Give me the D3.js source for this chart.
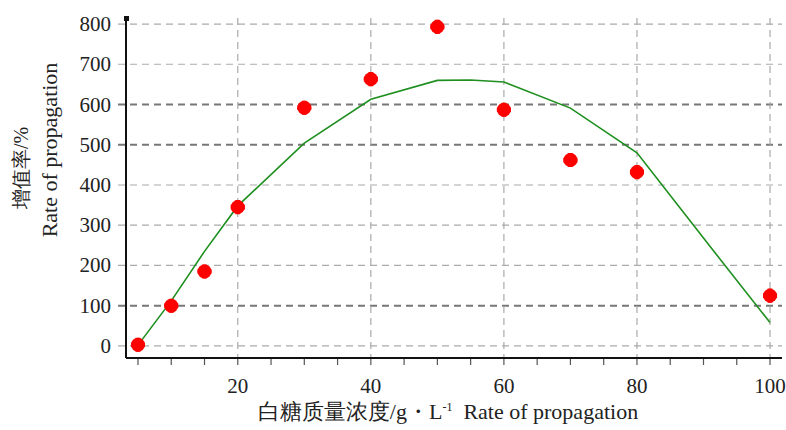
<!DOCTYPE html>
<html>
<head>
<meta charset="utf-8">
<script src="https://cdn.jsdelivr.net/npm/d3@7"></script>
<style>
  body { margin: 0; background: #fff; }
</style>
</head>
<body>
<svg id="chart" width="786" height="430" font-family="'Liberation Serif', 'DejaVu Serif', serif"></svg>
<script>
// measured points
const concX = [5, 10, 15, 20, 30, 40, 50, 60, 70, 80, 100]
const rateY = [3, 100, 185, 345, 592, 663, 793, 587, 462, 432, 125]

// fitted curve
const fitX = [5, 10, 15, 20, 30, 40, 50, 55, 60, 70, 80, 90, 100]
const fitY = [2, 112, 235, 348, 504, 613, 660, 661, 656, 591, 480, 268, 58]

const xTicks = [20, 40, 60, 80, 100]
const xMinor = d3.range(5, 101, 5)
const yTicks = [0, 100, 200, 300, 400, 500, 600, 700, 800]
const yDark = [100, 500, 600]

const svg = d3.select('#chart')

let x = d3.scaleLinear().domain([3.2, 101.8]).range([126, 782])
let y = d3.scaleLinear().domain([-30, 815]).range([358, 18])

// grid
svg.append('g')
    .selectAll('line')
    .data(yTicks)
    .enter()
    .append('line')
    .attr('x1', 118).attr('x2', 782)
    .attr('y1', d => y(d)).attr('y2', d => y(d))
    .style('stroke', d => yDark.includes(d) ? '#777' : '#aaa')
    .style('stroke-width', d => yDark.includes(d) ? 2 : 1.2)
    .style('stroke-dasharray', '7,5')

svg.append('g')
    .selectAll('line')
    .data(xTicks)
    .enter()
    .append('line')
    .attr('x1', d => x(d)).attr('x2', d => x(d))
    .attr('y1', 18).attr('y2', 358)
    .style('stroke', '#aaa')
    .style('stroke-width', 1.2)
    .style('stroke-dasharray', '7,5')

// axes
svg.append('line')
    .attr('x1', 126).attr('x2', 126).attr('y1', 18).attr('y2', 358)
    .style('stroke', '#111').style('stroke-width', 2)
svg.append('rect')
    .attr('x', 124).attr('y', 16).attr('width', 5).attr('height', 5)
    .style('fill', '#111')
svg.append('line')
    .attr('x1', 126).attr('x2', 782).attr('y1', 358).attr('y2', 358)
    .style('stroke', '#111').style('stroke-width', 2)

svg.append('g')
    .selectAll('line')
    .data(xMinor)
    .enter()
    .append('line')
    .attr('x1', d => x(d)).attr('x2', d => x(d))
    .attr('y1', 359).attr('y2', 365)
    .style('stroke', '#555').style('stroke-width', 1.2)

svg.append('g')
    .selectAll('text')
    .data(xTicks)
    .enter()
    .append('text')
    .attr('x', d => x(d)).attr('y', 393)
    .attr('text-anchor', 'middle')
    .attr('fill', '#222')
    .style('font-size', '21px')
    .text(d => d)

svg.append('g')
    .selectAll('text')
    .data(yTicks)
    .enter()
    .append('text')
    .attr('x', 111).attr('y', d => y(d) + 7)
    .attr('text-anchor', 'end')
    .attr('fill', '#222')
    .style('font-size', '21px')
    .text(d => d)

// titles
svg.append('text')
    .attr('transform', 'translate(28,168) rotate(-90)')
    .attr('text-anchor', 'middle')
    .attr('fill', '#222')
    .style('font-size', '20px')
    .text('增值率/%')
svg.append('text')
    .attr('transform', 'translate(57,150) rotate(-90)')
    .attr('text-anchor', 'middle')
    .attr('fill', '#222')
    .style('font-size', '22px')
    .text('Rate of propagation')

let xt = svg.append('text')
    .attr('x', 448).attr('y', 419)
    .attr('text-anchor', 'middle')
    .attr('fill', '#222')
    .style('font-size', '22px')
xt.append('tspan').text('白糖质量浓度/g・L')
xt.append('tspan').attr('dy', -8).style('font-size', '12px').text('-1')
xt.append('tspan').attr('dy', 8).text('\u00a0 Rate of propagation')

// fitted line
let line = d3.line()
    .x(d => x(d[0]))
    .y(d => y(d[1]))

svg.append('path')
    .datum(fitX.map((v, i) => [v, fitY[i]]))
    .attr('d', line)
    .style('fill', 'none')
    .style('stroke', '#1f8f1f')
    .style('stroke-width', 1.6)

// points
let pts = svg.append('g')
    .selectAll('g')
    .data(concX.map((v, i) => ({x: v, y: rateY[i]})))
    .enter()
    .append('g')
    .attr('transform', d => 'translate(' + x(d.x) + ',' + y(d.y) + ')')

pts.append('circle').attr('r', 7).style('fill', '#ff0000')
pts.append('path')
    .attr('d', d3.symbol(d3.symbolCross).size(110))
    .style('fill', '#ff0000')
</script>
</body>
</html>
